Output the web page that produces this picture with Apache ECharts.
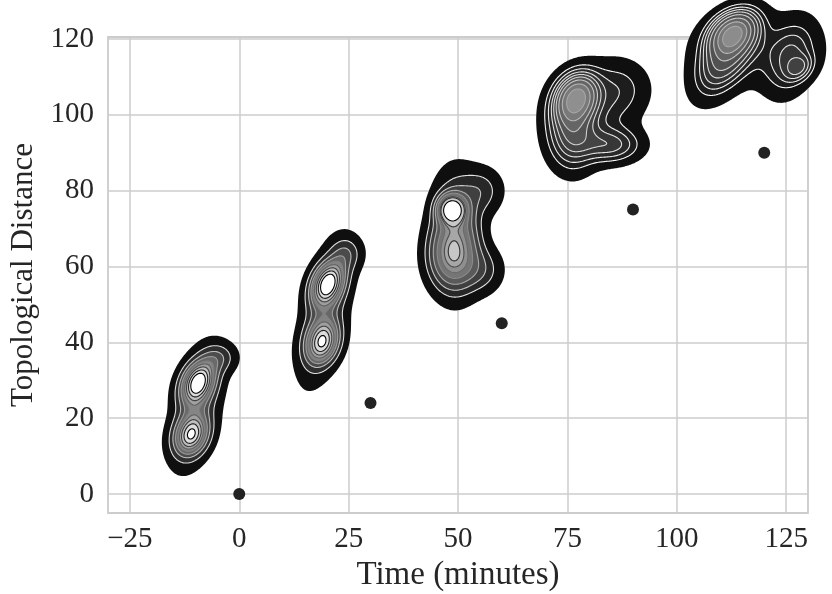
<!DOCTYPE html>
<html>
<head>
<meta charset="utf-8">
<script src="https://cdn.jsdelivr.net/npm/echarts@6/dist/echarts.min.js"></script>
<style>
  html, body { margin: 0; padding: 0; background: #ffffff; }
  #chart { width: 832px; height: 594px; }
</style>
</head>
<body>
<div id="chart"></div>
<script>
// Observed (time, distance) pairs drawn as dots
const timeMinutes = [0, 30, 60, 90, 120];
const topoDistance = [0, 24, 45, 75, 90];

// Axis tick values
const xTicks = [-25, 0, 25, 50, 75, 100, 125];
const yTicks = [0, 20, 40, 60, 80, 100, 120];

// Density clouds, each a small Gaussian mixture:
// [meanX, meanY, sdX, sdY, rho, weight]
const cloud0 = [
  [-9.5, 29.5, 2.6, 3.8, 0.3, 0.33],
  [-11.0, 15.5, 2.6, 3.6, 0.2, 0.27],
  [-9.8, 22.5, 3.6, 9.2, 0.45, 0.34],
  [-4.5, 36.0, 2.6, 2.6, 0.0, 0.06]
];
const cloud1 = [
  [20.2, 55.5, 2.5, 3.8, 0.3, 0.32],
  [19.0, 40.0, 2.5, 3.8, 0.2, 0.27],
  [19.4, 47.0, 3.6, 10.5, 0.5, 0.35],
  [24.5, 63.5, 2.4, 3.0, 0.0, 0.06]
];
const cloud2 = [
  [48.6, 75.0, 1.9, 2.3, 0.0, 0.16],
  [48.5, 62.5, 3.5, 5.5, 0.0, 0.26],
  [49.5, 69.0, 3.5, 9.0, 0.0, 0.44],
  [55.5, 80.0, 3.2, 4.0, 0.0, 0.07],
  [55.5, 59.0, 3.2, 4.0, 0.0, 0.07]
];
const cloud3 = [
  [77.0, 104.5, 3.0, 4.0, 0.2, 0.33],
  [76.0, 95.0, 3.5, 6.0, 0.0, 0.25],
  [85.0, 92.0, 4.5, 3.0, 0.0, 0.12],
  [87.0, 107.0, 4.5, 5.0, 0.0, 0.10],
  [80.0, 101.0, 6.0, 7.0, 0.0, 0.20]
];
const cloud4 = [
  [112.8, 121.5, 3.3, 3.5, 0.3, 0.33],
  [111.0, 115.0, 4.0, 6.0, 0.5, 0.30],
  [128.0, 112.3, 2.0, 2.2, 0.3, 0.03],
  [126.0, 115.0, 3.5, 6.0, 0.3, 0.14],
  [118.0, 117.0, 9.0, 6.0, 0.0, 0.20]
];
const clouds = [cloud0, cloud1, cloud2, cloud3, cloud4];

// Brightest fill reached in each cloud, and how dark its inner contour lines get
const cloudPeakShade = [1.0, 1.0, 1.0, 0.56, 0.55];
const cloudLineDepth = [1.0, 1.0, 1.0, 0.35, 0.35];

// Iso-proportion levels (share of mass outside each contour)
const isoProportions = [0.05, 0.1556, 0.2611, 0.3667, 0.4722, 0.5778, 0.6833, 0.7889, 0.8944, 1.0];

const GRID_STEP = 0.25;

function mixtureDensity(comps, x, y) {
  let s = 0;
  for (const c of comps) {
    const dx = (x - c[0]) / c[2], dy = (y - c[1]) / c[3], r = c[4];
    const om = 1 - r * r;
    const q = (dx * dx - 2 * r * dx * dy + dy * dy) / om;
    s += c[5] * Math.exp(-0.5 * q) / (2 * Math.PI * c[2] * c[3] * Math.sqrt(om));
  }
  return s;
}

function buildGrid(comps) {
  let x0 = Infinity, x1 = -Infinity, y0 = Infinity, y1 = -Infinity;
  for (const c of comps) {
    x0 = Math.min(x0, c[0] - 3.6 * c[2]); x1 = Math.max(x1, c[0] + 3.6 * c[2]);
    y0 = Math.min(y0, c[1] - 3.6 * c[3]); y1 = Math.max(y1, c[1] + 3.6 * c[3]);
  }
  const nx = Math.ceil((x1 - x0) / GRID_STEP) + 1;
  const ny = Math.ceil((y1 - y0) / GRID_STEP) + 1;
  const xs = [], ys = [];
  for (let i = 0; i < nx; i++) xs.push(x0 + i * GRID_STEP);
  for (let j = 0; j < ny; j++) ys.push(y0 + j * GRID_STEP);
  const v = new Float64Array(nx * ny);
  for (let j = 0; j < ny; j++)
    for (let i = 0; i < nx; i++)
      v[j * nx + i] = mixtureDensity(comps, xs[i], ys[j]);
  // density thresholds from iso-proportions
  const sorted = Array.from(v).sort((a, b) => b - a);
  let total = 0;
  for (const s of sorted) total += s;
  const cum = new Float64Array(sorted.length);
  let acc = 0;
  for (let k = 0; k < sorted.length; k++) { acc += sorted[k]; cum[k] = acc / total; }
  const levels = isoProportions.map(p => {
    const target = 1 - p;
    let lo = 0, hi = cum.length;
    while (lo < hi) { const m = (lo + hi) >> 1; if (cum[m] < target) lo = m + 1; else hi = m; }
    return sorted[Math.min(lo, sorted.length - 1)];
  });
  return { nx, ny, xs, ys, v, levels };
}

const cloudGrids = clouds.map(buildGrid);

// crossing point on a cell edge, always interpolated from the same end
function crossing(px, py, pv, qx, qy, qv, L) {
  if (px > qx || (px === qx && py > qy)) {
    [px, qx] = [qx, px]; [py, qy] = [qy, py]; [pv, qv] = [qv, pv];
  }
  const t = (L - pv) / (qv - pv);
  return [px + t * (qx - px), py + t * (qy - py)];
}

function fillPath(g, L, tx) {
  const { nx, ny, xs, ys, v } = g;
  const parts = [];
  const poly = pts => {
    let s = 'M' + tx(pts[0]);
    for (let k = 1; k < pts.length; k++) s += 'L' + tx(pts[k]);
    return s + 'Z';
  };
  for (let j = 0; j < ny - 1; j++) {
    const y0 = ys[j], y1 = ys[j + 1];
    let run = -1;
    for (let i = 0; i < nx - 1; i++) {
      const a = v[j * nx + i], b = v[j * nx + i + 1];
      const c = v[(j + 1) * nx + i + 1], d = v[(j + 1) * nx + i];
      const full = a >= L && b >= L && c >= L && d >= L;
      if (full) { if (run < 0) run = i; continue; }
      if (run >= 0) {
        parts.push(poly([[xs[run], y0], [xs[i], y0], [xs[i], y1], [xs[run], y1]]));
        run = -1;
      }
      if (a < L && b < L && c < L && d < L) continue;
      const cs = [[xs[i], y0, a], [xs[i + 1], y0, b], [xs[i + 1], y1, c], [xs[i], y1, d]];
      const out = [];
      for (let k = 0; k < 4; k++) {
        const p = cs[k], q = cs[(k + 1) % 4];
        const pin = p[2] >= L, qin = q[2] >= L;
        if (pin) out.push([p[0], p[1]]);
        if (pin !== qin) out.push(crossing(p[0], p[1], p[2], q[0], q[1], q[2], L));
      }
      if (out.length >= 3) parts.push(poly(out));
    }
    if (run >= 0) parts.push(poly([[xs[run], y0], [xs[nx - 1], y0], [xs[nx - 1], y1], [xs[run], y1]]));
  }
  return parts.join('');
}

function linePath(g, L, tx) {
  const { nx, ny, xs, ys, v } = g;
  const parts = [];
  const seg = (p, q) => parts.push('M' + tx(p) + 'L' + tx(q));
  for (let j = 0; j < ny - 1; j++) {
    const y0 = ys[j], y1 = ys[j + 1];
    for (let i = 0; i < nx - 1; i++) {
      const a = v[j * nx + i], b = v[j * nx + i + 1];
      const c = v[(j + 1) * nx + i + 1], d = v[(j + 1) * nx + i];
      const A = a >= L, B = b >= L, C = c >= L, D = d >= L;
      if (A === B && B === C && C === D) continue;
      const x0 = xs[i], x1 = xs[i + 1];
      const bottom = A !== B ? crossing(x0, y0, a, x1, y0, b, L) : null;
      const right = B !== C ? crossing(x1, y0, b, x1, y1, c, L) : null;
      const top = D !== C ? crossing(x0, y1, d, x1, y1, c, L) : null;
      const left = A !== D ? crossing(x0, y0, a, x0, y1, d, L) : null;
      const pts = [bottom, right, top, left].filter(p => p);
      if (pts.length === 2) seg(pts[0], pts[1]);
      else if (pts.length === 4) {
        const centre = (a + b + c + d) / 4 >= L;
        if (A === centre) { seg(bottom, right); seg(top, left); }
        else { seg(bottom, left); seg(right, top); }
      }
    }
  }
  return parts.join('');
}

function grey(b) {
  const n = Math.max(0, Math.min(255, Math.round(b * 255)));
  return 'rgb(' + n + ',' + n + ',' + n + ')';
}

function renderCloud(params, api) {
  const idx = api.value(2);
  const g = cloudGrids[idx];
  const o = api.coord([0, 0]);
  const u = api.coord([1, 1]);
  const kx = u[0] - o[0], ky = u[1] - o[1];
  const tx = p => (o[0] + p[0] * kx).toFixed(2) + ' ' + (o[1] + p[1] * ky).toFixed(2);
  const L = g.levels;
  const nb = L.length - 1;
  const mids = [];
  for (let k = 0; k < nb; k++) mids.push((L[k] + L[k + 1]) / 2);
  const span = mids[nb - 1] - mids[0];
  const peak = cloudPeakShade[idx];
  const children = [];
  for (let k = 0; k < nb; k++) {
    // blend of density position and band index
    const t = 0.5 * (mids[k] - mids[0]) / span + 0.5 * k / (nb - 1);
    children.push({
      type: 'path',
      silent: true,
      shape: { pathData: fillPath(g, L[k], tx) },
      style: { fill: grey(0.06 + (peak - 0.06) * t), stroke: null }
    });
  }
  const lspan = L[nb - 1] - L[0];
  for (let k = 1; k < nb; k++) {
    const t = 0.5 * (L[k] - L[0]) / lspan + 0.5 * k / (nb - 1);
    children.push({
      type: 'path',
      silent: true,
      shape: { pathData: linePath(g, L[k], tx) },
      style: {
        fill: null,
        stroke: grey(1 - cloudLineDepth[idx] * t),
        lineWidth: 1.1, lineCap: 'round', lineJoin: 'round'
      }
    });
  }
  return { type: 'group', children };
}

const cloudData = clouds.map((c, i) => [c[0][0], c[0][1], i]);
const dotData = timeMinutes.map((t, i) => [t, topoDistance[i]]);

const FONT = '"Liberation Serif", "DejaVu Serif", serif';
const TEXT = '#262626';
const minusFmt = v => (v < 0 ? '\u2212' + Math.abs(v) : String(v));

const option = {
  backgroundColor: '#ffffff',
  animation: false,
  grid: {
    left: 108, right: 24, top: 37, bottom: 81,
    containLabel: false, outerBoundsMode: 'none',
    show: true, borderColor: '#cccccc', borderWidth: 1.8, backgroundColor: 'transparent'
  },
  xAxis: {
    type: 'value', min: -30, max: 130,
    name: 'Time (minutes)', nameLocation: 'middle', nameGap: 45,
    nameTextStyle: { fontFamily: FONT, fontSize: 33, color: TEXT },
    axisLine: { show: false },
    axisTick: { show: false, customValues: xTicks },
    axisLabel: { customValues: xTicks, formatter: minusFmt, fontFamily: FONT, fontSize: 29, color: TEXT, margin: 12 },
    splitLine: { show: true, lineStyle: { color: '#cccccc', width: 1.5 } }
  },
  yAxis: {
    type: 'value', min: -5, max: 120.5,
    name: 'Topological Distance', nameLocation: 'middle', nameGap: 62,
    nameTextStyle: { fontFamily: FONT, fontSize: 31, color: TEXT },
    axisLine: { show: false },
    axisTick: { show: false, customValues: yTicks },
    axisLabel: { customValues: yTicks, formatter: minusFmt, fontFamily: FONT, fontSize: 29, color: TEXT, margin: 14 },
    splitLine: { show: true, lineStyle: { color: '#cccccc', width: 1.5 } }
  },
  series: [
    {
      type: 'custom',
      clip: false,
      z: 2,
      silent: true,
      encode: { x: 0, y: 1 },
      data: cloudData,
      renderItem: renderCloud
    },
    {
      type: 'scatter',
      z: 3,
      symbolSize: 12,
      itemStyle: { color: '#222222', opacity: 1 },
      data: dotData
    }
  ]
};

const chart = echarts.init(document.getElementById('chart'));
chart.setOption(option);
</script>
</body>
</html>
